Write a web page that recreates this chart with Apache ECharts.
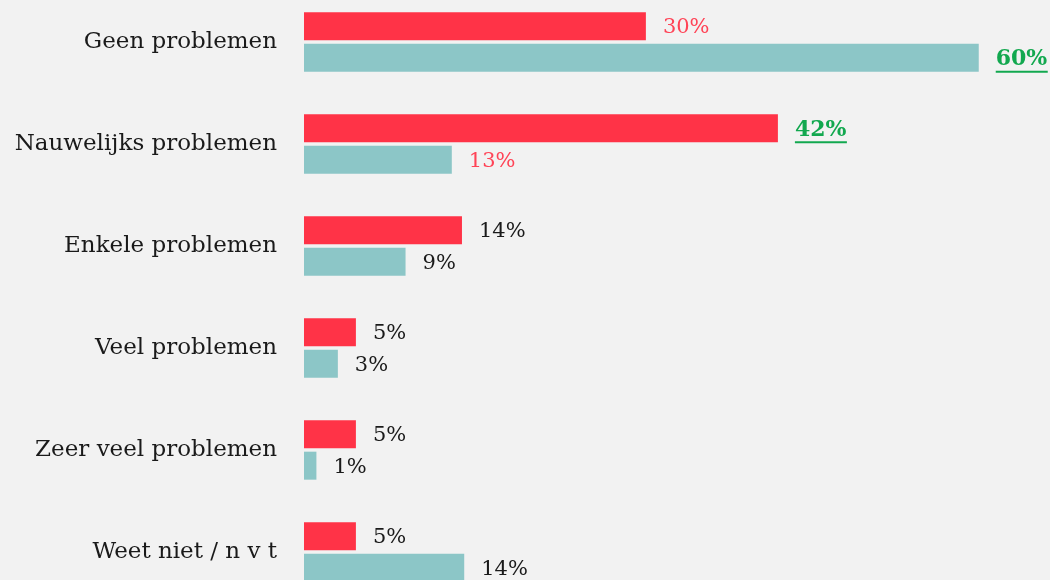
<!DOCTYPE html>
<html>
<head>
<meta charset="utf-8">
<script src="https://cdn.jsdelivr.net/npm/echarts@6/dist/echarts.min.js"></script>
<style>
  html, body { margin: 0; padding: 0; background: #f2f2f2; }
  #chart { width: 1050px; height: 580px; }
</style>
</head>
<body>
<div id="chart"></div>
<script>
var categories = ["Geen problemen", "Nauwelijks problemen", "Enkele problemen", "Veel problemen", "Zeer veel problemen", "Weet niet / n v t"];
// bar lengths (labels show them rounded)
var redValues = [30.3, 42.0, 14.0, 4.6, 4.6, 4.6];
var tealValues = [59.8, 13.1, 9.0, 3.0, 1.1, 14.2];
// label style per bar: n = normal, r = red, g = green bold underline
var redLabelStyle = ["r", "g", "n", "n", "n", "n"];
var tealLabelStyle = ["g", "r", "n", "n", "n", "n"];

var font = "DejaVu Serif";
var richStyles = {
    n: {color: "#1a1a1a", fontSize: 21, fontFamily: font, lineHeight: 22},
    r: {color: "#ff4457", fontSize: 21, fontFamily: font, lineHeight: 22},
    g: {color: "#12a84f", fontSize: 22, fontFamily: font, fontWeight: "bold", lineHeight: 22},
    u: {height: 2, lineHeight: 3, width: 52, backgroundColor: "#12a84f"},
    s: {height: 2, lineHeight: 3, width: 1}
};

function makeLabel(styles) {
    return {
        show: true,
        position: "right",
        distance: 17,
        offset: [0, 3],
        formatter: function (p) {
            var s = styles[p.dataIndex];
            var txt = Math.round(p.value) + "%";
            if (s === "g") {
                return "{g|" + txt + "}\n{u|}";
            }
            return "{" + s + "|" + txt + "}\n{s|}";
        },
        rich: richStyles
    };
}

var chart = echarts.init(document.getElementById("chart"));
chart.setOption({
    backgroundColor: "#f2f2f2",
    animation: false,
    grid: {left: 304, right: 69, top: -9, bottom: -23, containLabel: false, outerBoundsMode: "none"},
    xAxis: {
        type: "value",
        min: 0,
        max: 60,
        show: false
    },
    yAxis: {
        type: "category",
        data: categories,
        inverse: true,
        axisLine: {show: false},
        axisTick: {show: false},
        splitLine: {show: false},
        axisLabel: {
            margin: 27,
            color: "#1a1a1a",
            fontSize: 23,
            fontFamily: font
        }
    },
    series: [
        {
            type: "bar",
            data: redValues,
            barWidth: 28,
            barGap: "12%",
            itemStyle: {color: "#ff3347"},
            label: makeLabel(redLabelStyle)
        },
        {
            type: "bar",
            data: tealValues,
            barWidth: 28,
            itemStyle: {color: "#8cc6c7"},
            label: makeLabel(tealLabelStyle)
        }
    ]
});
</script>
</body>
</html>
